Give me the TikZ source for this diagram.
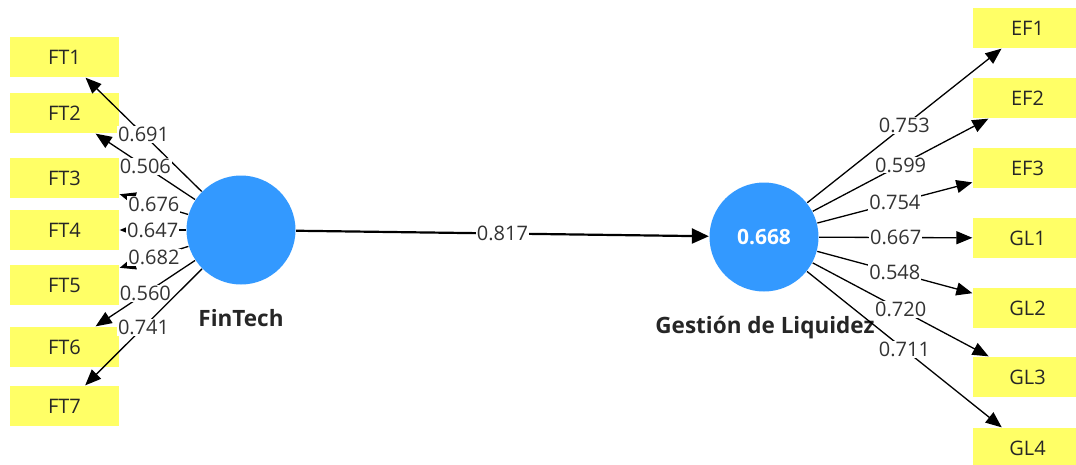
\documentclass[tikz,border=0pt]{standalone}
\usepackage{fontspec}
\setmainfont{Open Sans}
\usetikzlibrary{arrows.meta,positioning}
\definecolor{boxyellow}{RGB}{255,255,102}
\definecolor{lvblue}{RGB}{51,153,255}

\begin{document}
\begin{tikzpicture}[x=1pt, y=-1pt, ->, >={Triangle[length=16pt,width=13pt]},
    line width=1.3pt,
    every node/.append style={font=\fontsize{20}{23}\selectfont}]
  \tikzstyle{indicator} = [fill=boxyellow, minimum width=109pt, minimum height=40pt, inner sep=0pt, text=black!85]
  \tikzstyle{construct} = [circle, fill=lvblue, minimum size=109pt, inner sep=0pt, text=white, font=\fontsize{21}{24}\selectfont\bfseries]
  \tikzstyle{lvname} = [anchor=base, font=\fontsize{22.5}{26}\selectfont\bfseries, text=black!85]
  \tikzstyle{weight} = [fill=white, inner sep=1pt, text=black!80]
  \useasboundingbox (0,0) rectangle (1076,464);

  % latent variables
  \node (ft) [construct] at (241,230) {};
  \node (gl) [construct] at (764,237) {0.668};
  \node (ftname) [lvname] at (241,326) {FinTech};
  \node (glname) [lvname] at (765,333) {Gestión de Liquidez};

  % indicators
  \node (ft1) [indicator] at (64.5,57) {FT1};
  \node (ft2) [indicator] at (64.5,113) {FT2};
  \node (ft3) [indicator] at (64.5,178) {FT3};
  \node (ft4) [indicator] at (64.5,230) {FT4};
  \node (ft5) [indicator] at (64.5,285) {FT5};
  \node (ft6) [indicator] at (64.5,347) {FT6};
  \node (ft7) [indicator] at (64.5,406) {FT7};
  \node (ef1) [indicator] at (1027.5,28) {EF1};
  \node (ef2) [indicator] at (1027.5,98) {EF2};
  \node (ef3) [indicator] at (1027.5,168) {EF3};
  \node (gl1) [indicator] at (1027.5,238) {GL1};
  \node (gl2) [indicator] at (1027.5,308) {GL2};
  \node (gl3) [indicator] at (1027.5,377) {GL3};
  \node (gl4) [indicator] at (1027.5,448) {GL4};

  % outer loadings
  \draw (ft) to node [weight] {0.691} (ft1);
  \draw (ft) to node [weight] {0.506} (ft2);
  \draw (ft) to node [weight] {0.676} (ft3);
  \draw (ft) to node [weight] {0.647} (ft4);
  \draw (ft) to node [weight] {0.682} (ft5);
  \draw (ft) to node [weight] {0.560} (ft6);
  \draw (ft) to node [weight] {0.741} (ft7);
  \draw (gl) to node [weight] {0.753} (ef1);
  \draw (gl) to node [weight] {0.599} (ef2);
  \draw (gl) to node [weight] {0.754} (ef3);
  \draw (gl) to node [weight] {0.667} (gl1);
  \draw (gl) to node [weight] {0.548} (gl2);
  \draw (gl) to node [weight] {0.720} (gl3);
  \draw (gl) to node [weight] {0.711} (gl4);

  % path coefficient
  \draw [line width=2.2pt, -{Triangle[length=17pt,width=15pt]}] (ft) to node [weight] {0.817} (gl);
\end{tikzpicture}
\end{document}
